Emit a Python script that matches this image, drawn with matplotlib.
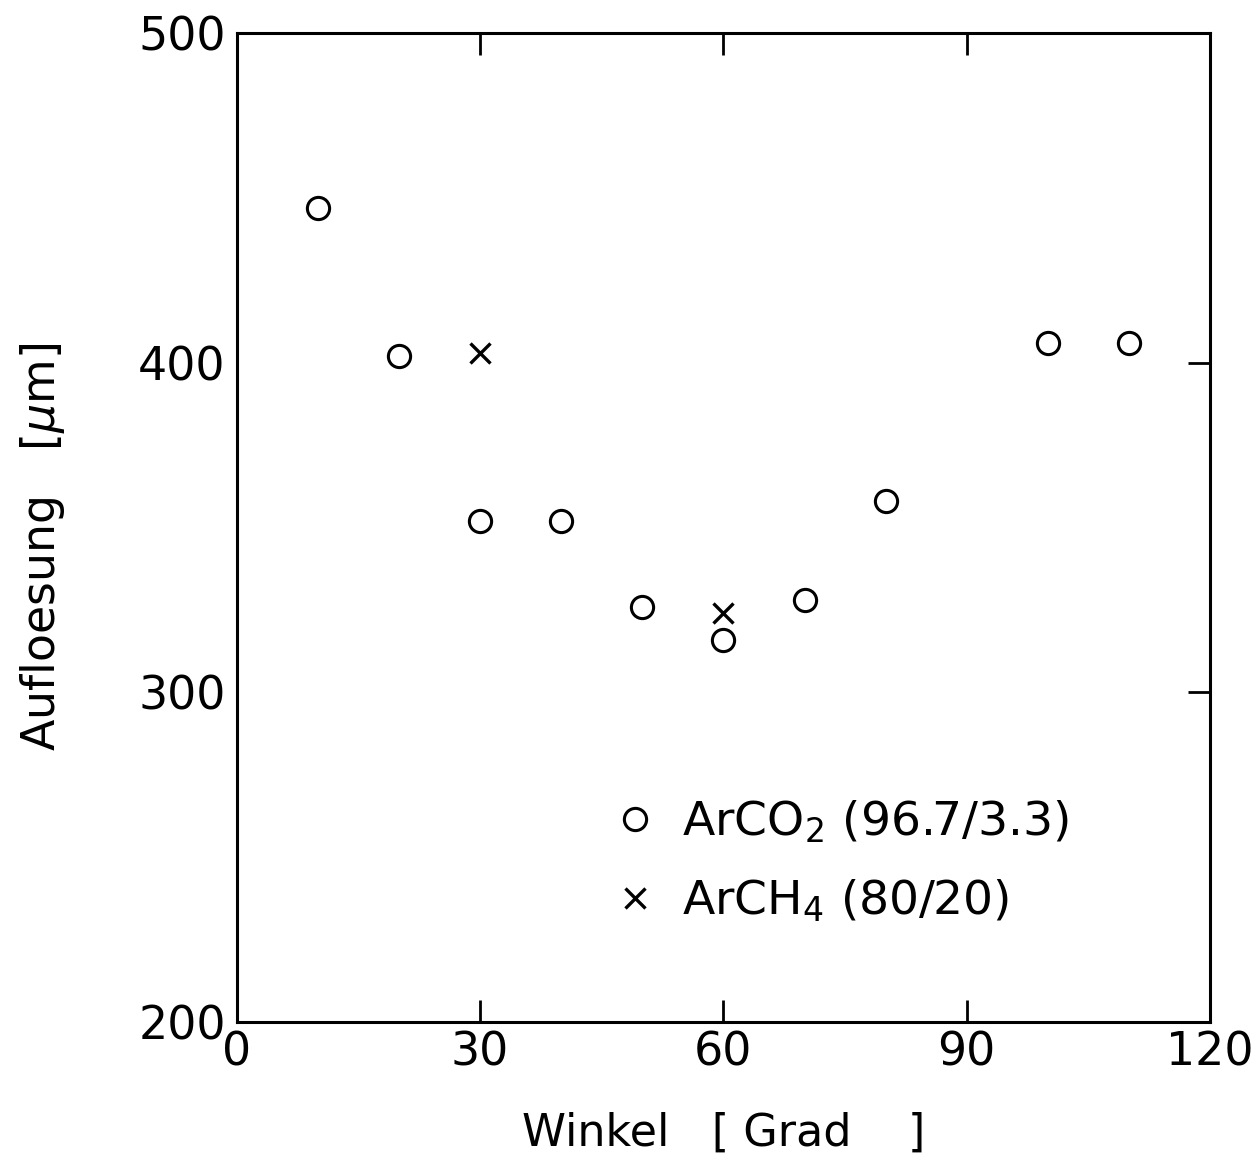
import matplotlib.pyplot as plt

winkel_co2 = [10, 20, 30, 40, 50, 60, 70, 80, 100, 110]
aufl_co2 = [447, 402, 352, 352, 326, 316, 328, 358, 406, 406]
winkel_ch4 = [30, 60]
aufl_ch4 = [403, 324]

xticks = [0, 30, 60, 90, 120]
yticks = [200, 300, 400, 500]

plt.rcParams['font.family'] = ['DejaVu Sans']
plt.rcParams['mathtext.fontset'] = 'dejavusans'

fig = plt.figure(figsize=(12.53, 11.65), dpi=100)
ax = fig.add_axes([0.189, 0.1227, 0.7767, 0.849])

ax.plot(winkel_co2, aufl_co2, 'o', ls='none', ms=16, mfc='none', mec='black', mew=2.2,
        label=r'ArCO$_2$ (96.7/3.3)')
ax.plot(winkel_ch4, aufl_ch4, 'x', ls='none', ms=14, mec='black', mew=2.4,
        label=r'ArCH$_4$ (80/20)')

ax.set_xlim(0, 120)
ax.set_ylim(200, 500)
ax.set_xticks(xticks)
ax.set_yticks(yticks)

for s in ax.spines.values():
    s.set_linewidth(2.2)

ax.tick_params(axis='x', direction='in', length=16, width=2, top=True, labelsize=33, pad=6)
ax.tick_params(axis='y', direction='in', length=0, width=2, labelsize=33, pad=8)
# ticks only on the right side, pointing inward
ax.tick_params(axis='y', which='major', right=True)
for t in ax.yaxis.get_major_ticks():
    t.tick2line.set_markersize(16)
    t.tick2line.set_markeredgewidth(2)
# hide end ticks on top/bottom/right as in the original
for t in ax.xaxis.get_major_ticks()[::4]:
    t.tick1line.set_visible(False)
    t.tick2line.set_visible(False)
for t in ax.yaxis.get_major_ticks()[::3]:
    t.tick2line.set_visible(False)

ax.set_xlabel('Winkel   [ Grad    ]', fontsize=32, labelpad=26)
ax.set_ylabel(r'Aufloesung   [$\mu$m]', fontsize=33)
ax.yaxis.set_label_coords(-0.175, 0.48)

ax.legend(loc='upper left', bbox_to_anchor=(0.37, 0.245), frameon=False, fontsize=34,
          numpoints=1, handlelength=0.8, handletextpad=0.6, labelspacing=0.7,
          borderaxespad=0)

fig.savefig('out.png', dpi=100)
